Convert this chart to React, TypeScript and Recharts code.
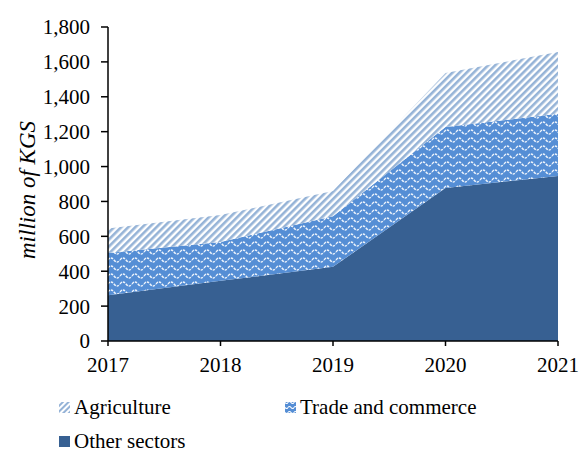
import React from 'react';
import { AreaChart, Area, XAxis, YAxis, Legend, Text } from 'recharts';

const years = ['2017', '2018', '2019', '2020', '2021'];
const otherSectors = [262, 345, 425, 877, 946];
const tradeCommerce = [243, 223, 290, 350, 356];
const agriculture = [140, 154, 145, 310, 355];
const yTicks = [0, 200, 400, 600, 800, 1000, 1200, 1400, 1600, 1800];

const data = years.map((y, i) => ({
  year: y,
  other: otherSectors[i],
  trade: tradeCommerce[i],
  agri: agriculture[i],
}));

const FONT = 'Liberation Serif, Tinos, DejaVu Serif, serif';
const DARK = '#376092';
const MID = '#558ED5';
const LIGHT = '#95B3D7';

const legendItems = [
  { key: 'agri', label: 'Agriculture', x: 59, y: 0 },
  { key: 'trade', label: 'Trade and commerce', x: 285, y: 0 },
  { key: 'other', label: 'Other sectors', x: 59, y: 34 },
];

const LegendContent = () => (
  <svg width={579} height={64} style={{ display: 'block' }}>
    <defs>
      <pattern id="agriPatL" patternUnits="userSpaceOnUse" width="4" height="4" patternTransform="rotate(45)">
        <rect width="4" height="4" fill="#fff" />
        <rect width="2" height="4" fill={LIGHT} />
      </pattern>
      <pattern id="tradePatL" patternUnits="userSpaceOnUse" width="6" height="5">
        <rect width="6" height="5" fill={MID} />
        <path d="M0 2.5 Q1.5 0.5 3 2.5 T6 2.5" stroke="#fff" strokeWidth="1.2" fill="none" />
      </pattern>
    </defs>
    {legendItems.map((it) => (
      <g key={it.key}>
        <rect
          x={it.x}
          y={it.y + 12}
          width={11}
          height={11}
          fill={it.key === 'agri' ? 'url(#agriPatL)' : it.key === 'trade' ? 'url(#tradePatL)' : DARK}
        />
        <Text
          x={it.x + 15}
          y={it.y + 24}
          verticalAnchor="end"
          textAnchor="start"
          fontFamily={FONT}
          fontSize={21}
          fill="#000"
        >
          {it.label}
        </Text>
      </g>
    ))}
  </svg>
);

const YLabel = (props: any) => {
  const vb = props.viewBox || { x: 0, y: 27, width: 108, height: 314 };
  const cx = 35;
  const cy = vb.y + vb.height / 2 + 6;
  return (
    <Text
      x={cx}
      y={cy}
      angle={-90}
      textAnchor="middle"
      verticalAnchor="end"
      fontFamily={FONT}
      fontStyle="italic"
      fontSize={23}
      fill="#000"
    >
      million of KGS
    </Text>
  );
};

export default function App() {
  return (
    <div style={{ position: 'absolute', left: 0, top: 0, width: 579, height: 454, background: '#fff' }}>
      <AreaChart
        width={579}
        height={454}
        data={data}
        margin={{ top: 27, right: 21, left: 0, bottom: 19 }}
      >
        <defs>
          <pattern id="agriPat" patternUnits="userSpaceOnUse" width="5" height="5" patternTransform="rotate(45)">
            <rect width="5" height="5" fill="#fff" />
            <rect width="2.6" height="5" fill={LIGHT} />
          </pattern>
          <pattern id="tradePat" patternUnits="userSpaceOnUse" width="12" height="8">
            <rect width="12" height="8" fill={MID} />
            <path
              d="M0 4 Q3 0 6 4 T12 4"
              stroke="#fff"
              strokeWidth="1.4"
              strokeDasharray="2.5 1"
              fill="none"
              opacity="0.9"
            />
          </pattern>
        </defs>
        <XAxis
          dataKey="year"
          height={30}
          tickSize={5}
          tickMargin={11}
          axisLine={{ stroke: '#000', strokeWidth: 1.5 }}
          tickLine={{ stroke: '#000', strokeWidth: 1.5 }}
          tick={{ fill: '#000', fontSize: 21, fontFamily: FONT }}
          interval={0}
        />
        <YAxis
          width={108}
          domain={[0, 1800]}
          ticks={yTicks}
          tickSize={7}
          tickMargin={11}
          interval={0}
          allowDataOverflow
          axisLine={{ stroke: '#000', strokeWidth: 1.5 }}
          tickLine={{ stroke: '#000', strokeWidth: 1.5 }}
          tick={{ fill: '#000', fontSize: 21, fontFamily: FONT }}
          tickFormatter={(v: number) => v.toLocaleString('en-US')}
          label={<YLabel />}
        />
        <Area
          type="linear"
          dataKey="other"
          name="Other sectors"
          stackId="s"
          stroke="none"
          fill={DARK}
          fillOpacity={1}
          isAnimationActive={false}
        />
        <Area
          type="linear"
          dataKey="trade"
          name="Trade and commerce"
          stackId="s"
          stroke="none"
          fill="url(#tradePat)"
          fillOpacity={1}
          isAnimationActive={false}
        />
        <Area
          type="linear"
          dataKey="agri"
          name="Agriculture"
          stackId="s"
          stroke="none"
          fill="url(#agriPat)"
          fillOpacity={1}
          isAnimationActive={false}
        />
        <Legend
          verticalAlign="bottom"
          content={<LegendContent />}
          wrapperStyle={{ left: 0, top: 390, width: 579, height: 64 }}
        />
      </AreaChart>
    </div>
  );
}
